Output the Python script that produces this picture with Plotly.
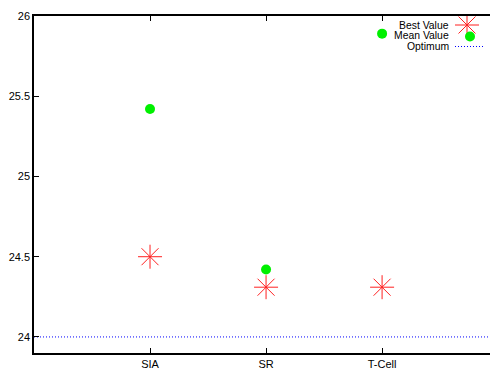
import plotly.graph_objects as go

# Algorithms compared and their results
algorithms = ["SIA", "SR", "T-Cell"]
best_values = [24.5, 24.31, 24.31]
mean_values = [25.42, 24.42, 25.89]
optimum = 24.0

x_pos = [1, 2, 3]
x_max = 3.93

W, H = 490, 372
L, R, T, B = 34, 0, 16, 19

RED = "#ff2020"
GREEN = "#00f000"
BLUE = "#0000ff"
DOTS = "1px,2px"

fig = go.Figure()

# Optimum reference line
fig.add_trace(go.Scatter(
    x=[0, x_max], y=[optimum, optimum], mode="lines",
    line=dict(color=BLUE, width=1, dash=DOTS),
    showlegend=False, hoverinfo="skip"))

star = dict(symbol="asterisk-open", size=20, color=RED,
            line=dict(color=RED, width=1))
dot = dict(symbol="circle", size=10, color=GREEN, line=dict(width=0))

# Best values (asterisks)
fig.add_trace(go.Scatter(x=x_pos, y=best_values, mode="markers",
                         marker=star, showlegend=False))

# Mean values (filled circles)
fig.add_trace(go.Scatter(x=x_pos, y=mean_values, mode="markers",
                         marker=dot, showlegend=False))

# Key samples on a pixel-based overlay axis
fig.add_trace(go.Scatter(x=[467], y=[25], mode="markers", xaxis="x2", yaxis="y2",
                         marker=star, showlegend=False, hoverinfo="skip"))
fig.add_trace(go.Scatter(x=[470], y=[36.5], mode="markers", xaxis="x2", yaxis="y2",
                         marker=dot, showlegend=False, hoverinfo="skip"))
fig.add_trace(go.Scatter(
    x=[455, 484], y=[46.5, 46.5], mode="lines", xaxis="x2", yaxis="y2",
    line=dict(color=BLUE, width=1, dash=DOTS),
    showlegend=False, hoverinfo="skip"))

font = dict(family="Liberation Sans, Arial, sans-serif", size=11, color="#000000")
key_font = dict(family="Liberation Sans, Arial, sans-serif", size=10.4, color="#000000")

for label, ypix in [("Best Value", 25), ("Mean Value", 35.5), ("Optimum", 46.5)]:
    fig.add_annotation(x=450, y=ypix, xref="x2", yref="y2", text=label,
                       showarrow=False, xanchor="right", yanchor="middle",
                       borderpad=0, font=key_font)

fig.update_layout(
    width=W, height=H, autosize=False,
    margin=dict(l=L, r=R, t=T, b=B, pad=0),
    paper_bgcolor="white", plot_bgcolor="white",
    font=font,
    xaxis=dict(
        range=[0, x_max], tickmode="array", tickvals=x_pos, ticktext=algorithms,
        ticks="inside", ticklen=5, tickcolor="#000", tickwidth=1,
        showline=True, linecolor="#000", linewidth=1.5, mirror="ticks",
        showgrid=False, zeroline=False, fixedrange=True),
    yaxis=dict(
        range=[23.9, 26], tickmode="array",
        tickvals=[24, 24.5, 25, 25.5, 26],
        ticktext=["24", "24.5", "25", "25.5", "26"],
        ticks="inside", ticklen=5, tickcolor="#000", tickwidth=1,
        showline=True, linecolor="#000", linewidth=1.5, mirror=False,
        showgrid=False, zeroline=False, fixedrange=True),
    xaxis2=dict(range=[L, W], overlaying="x", visible=False, fixedrange=True),
    yaxis2=dict(range=[H - B, T], overlaying="y", visible=False, fixedrange=True),
    showlegend=False,
)

fig.write_html("out.html", config={"displayModeBar": False})
